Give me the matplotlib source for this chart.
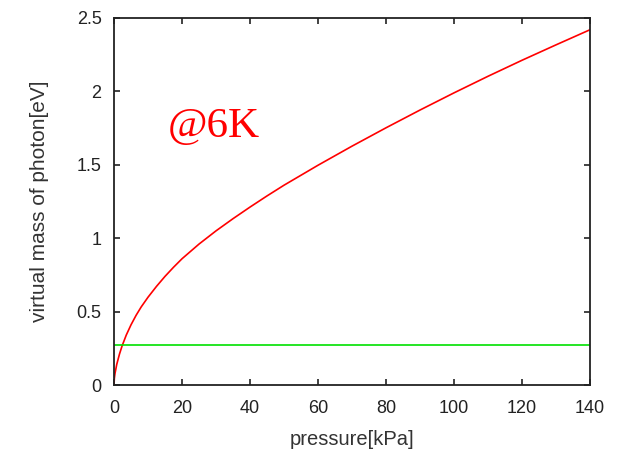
import numpy as np
import matplotlib.pyplot as plt
from matplotlib.ticker import FuncFormatter

# red curve
pressure = [0, 0.1, 0.3, 0.8, 1.6, 2.4, 3.6, 5, 6.5, 8, 10, 12.5, 15, 17.5, 20, 25,
            30, 35, 40, 45, 50, 60, 70, 80, 90, 100, 110, 120, 130, 140]
mass = [0, 0.045, 0.08, 0.14, 0.21, 0.268, 0.34, 0.41, 0.475, 0.532, 0.598, 0.672,
        0.74, 0.802, 0.86, 0.96, 1.05, 1.133, 1.212, 1.288, 1.361, 1.497, 1.627,
        1.752, 1.873, 1.99, 2.103, 2.212, 2.317, 2.42]

# green reference line
flat_x = [0, 140]
flat_y = [0.27, 0.27]

xticks = [0, 20, 40, 60, 80, 100, 120, 140]
yticks = [0, 0.5, 1, 1.5, 2, 2.5]

plt.rcParams['font.family'] = ['Liberation Sans', 'DejaVu Sans']

fig = plt.figure(figsize=(6.22, 4.53), dpi=100)
ax = fig.add_axes([0.1833, 0.1501, 0.7653, 0.8102])

ax.plot(pressure, mass, color="#ff0000", lw=1.2)
ax.plot(flat_x, flat_y, color="#00e000", lw=1.2)

ax.set_xlim(0, 140)
ax.set_ylim(0, 2.5)
ax.set_xticks(xticks)
ax.set_yticks(yticks)
ax.yaxis.set_major_formatter(FuncFormatter(lambda v, p: f"{v:g}"))
ax.tick_params(direction="in", length=4, width=1.2, top=True, right=True,
               labelsize=13, colors="#222222")
ax.tick_params(axis="x", pad=11)
ax.tick_params(axis="y", pad=9)
for s in ax.spines.values():
    s.set_linewidth(1.3)
    s.set_color("#222222")

ax.set_xlabel("pressure[kPa]", fontsize=14.5, color="#333333", labelpad=9)
ax.set_ylabel("virtual mass of photon[eV]", fontsize=15, color="#333333", labelpad=20)

ax.text(15.9, 1.69, "@6K", color="#ff0000", fontsize=31, family="Liberation Serif",
        va="baseline")

fig.savefig("out.png", dpi=100)
